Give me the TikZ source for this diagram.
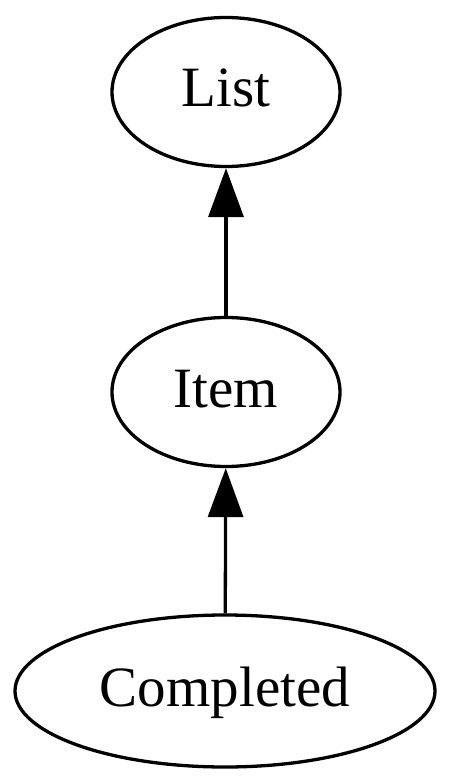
\documentclass[tikz,border=0pt]{standalone}
\usepackage{fontspec}
\setmainfont{Liberation Serif}
\usetikzlibrary{arrows.meta,shapes.geometric}
\begin{document}
\begin{tikzpicture}[x=1pt,y=-1pt,
  state/.style={draw, ellipse, line width=3.3pt, inner sep=0pt,
    font=\fontsize{57}{62}\selectfont, text height=41pt, text depth=11pt},
  edge/.style={line width=3.3pt, -{Triangle[length=49pt,width=35pt]}}]
\useasboundingbox (0,0) rectangle (450,783);
\node[state, minimum width=228pt, minimum height=149pt] (list) at (226,92) {List};
\node[state, minimum width=228pt, minimum height=149pt] (item) at (226,392) {Item};
\node[state, minimum width=420pt, minimum height=152pt] (completed) at (225,691) {Completed};
\draw[edge] (item) -- (list);
\draw[edge] (completed) -- (item);
\end{tikzpicture}
\end{document}
